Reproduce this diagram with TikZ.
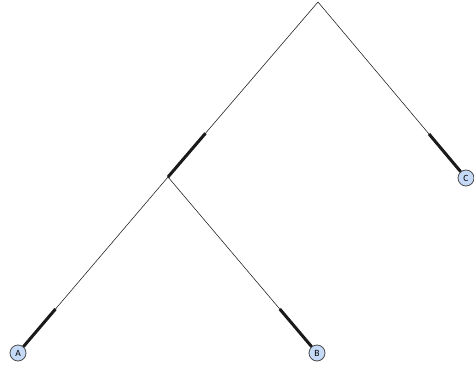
\documentclass[tikz,border=0pt]{standalone}
\usepackage{fontspec}
\setsansfont{Carlito}
\usetikzlibrary{calc, positioning}
\definecolor{ink}{HTML}{1A1A1A}
\definecolor{tipblue}{HTML}{C5DAF6}
\definecolor{tipedge}{HTML}{4A4A4A}
\tikzset{el/.style={line cap=round, line join=round},
  leaf/.style={circle, draw=tipedge, fill=tipblue, line width=0.8pt, inner sep=0pt,
    minimum size=16pt, font=\sffamily\fontsize{9.5}{9.5}\selectfont},
  branch/.style={ink, line width=0.55pt},
  support/.style={ink, line width=3pt, line cap=butt}}
\begin{document}
\begin{tikzpicture}[el, x=1pt, y=-1pt]
  \useasboundingbox (0,0) rectangle (474,369);
  \coordinate (root) at (318,2);
  \coordinate (mid) at (168,177);
  \node[leaf] (a) at (18,353) {A};
  \node[leaf] (b) at (317,353) {B};
  \node[leaf] (c) at (466,178) {C};
  \foreach \from/\to in {root/mid, root/c, mid/a, mid/b}{
     \draw[branch] (\from) -- (\to);
     \draw[support] ($(\from)!0.75!(\to)$) -- (\to);}
\end{tikzpicture}
\end{document}
